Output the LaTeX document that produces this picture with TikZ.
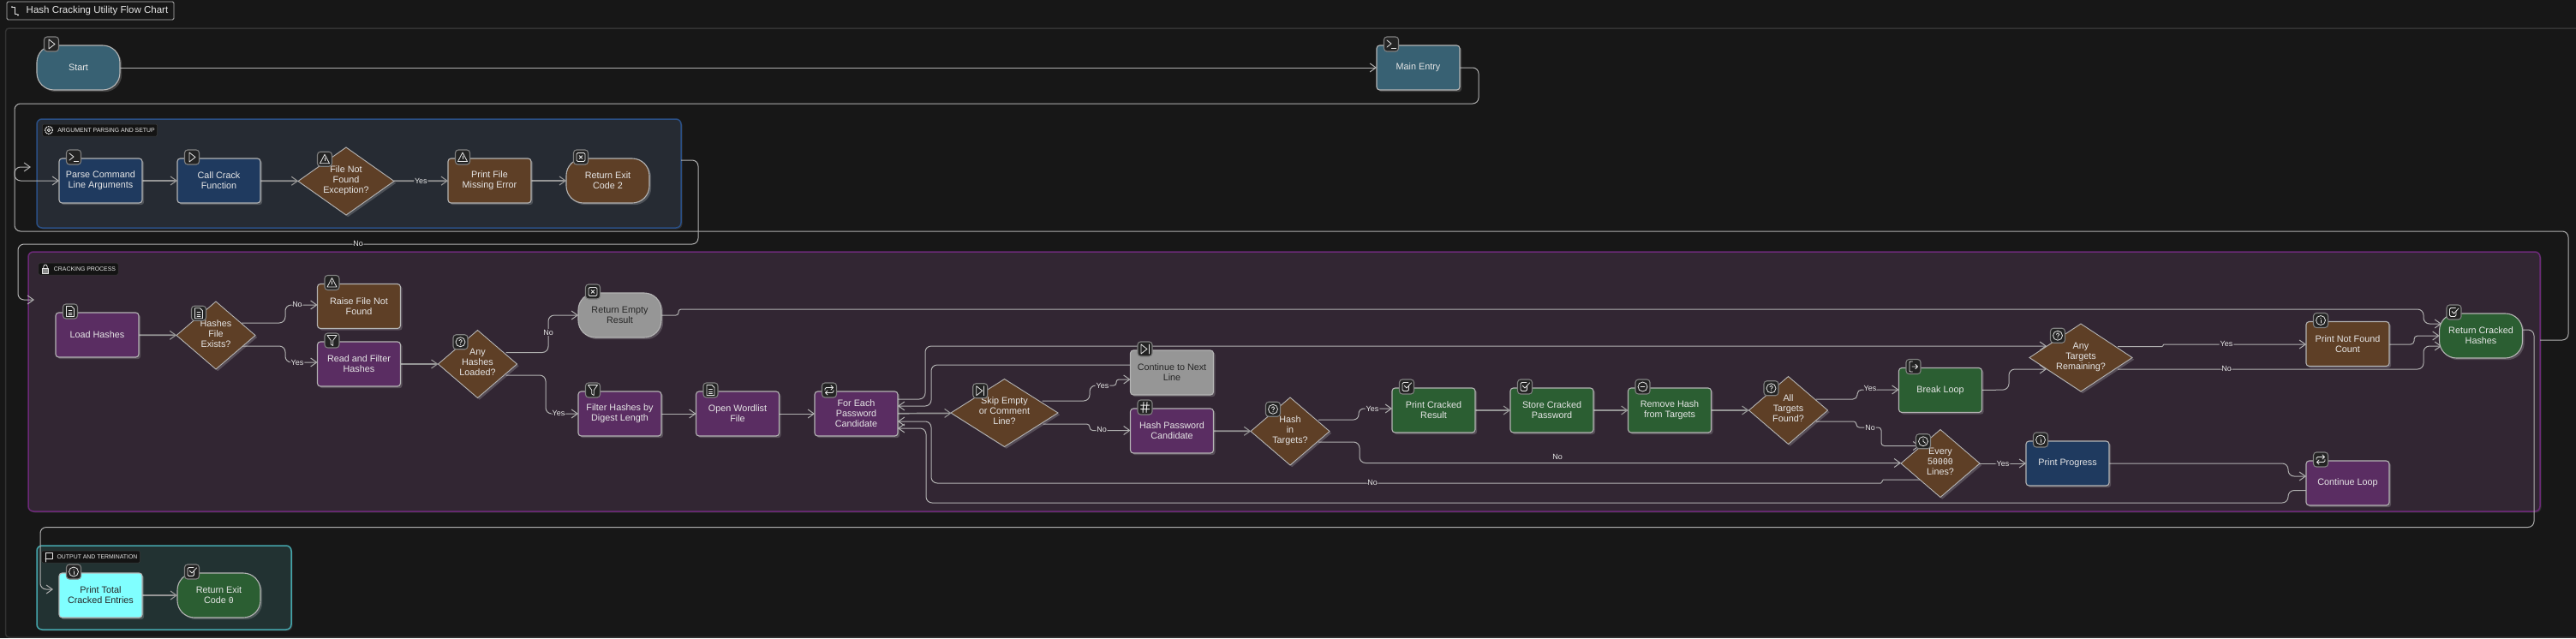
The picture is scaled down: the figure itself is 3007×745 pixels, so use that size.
\documentclass[tikz,border=0pt]{standalone}
\usepackage{fontspec}
\setmainfont{Liberation Sans}
\newfontfamily\zerofont{DejaVu Sans Mono}
\usetikzlibrary{arrows.meta,shapes.geometric,shadows}

\definecolor{canvasbg}{HTML}{171717}
\definecolor{framecol}{HTML}{333333}
\definecolor{edgecol}{HTML}{B0B0B0}
\definecolor{edgegrey}{HTML}{969696}
\definecolor{outlinecol}{HTML}{B4B4B4}
\definecolor{textcol}{HTML}{E6E6E6}
\definecolor{tealfill}{HTML}{386173}
\definecolor{bluefill}{HTML}{1F3A5F}
\definecolor{brownfill}{HTML}{5E3F26}
\definecolor{purplefill}{HTML}{5A2D62}
\definecolor{greenfill}{HTML}{2B5E32}
\definecolor{greyfill}{HTML}{969696}
\definecolor{cyanfill}{HTML}{80FFFF}
\definecolor{argbg}{HTML}{262B33}
\definecolor{argline}{HTML}{2A4F85}
\definecolor{crackbg}{HTML}{322633}
\definecolor{crackline}{HTML}{6C2A78}
\definecolor{outbg}{HTML}{223232}
\definecolor{outline}{HTML}{45A5AB}

\pgfdeclarelayer{canvas}
\pgfdeclarelayer{groups}
\pgfdeclarelayer{flows}
\pgfsetlayers{canvas,groups,flows,main}

\newcommand{\nodefont}{\fontsize{10.8}{12}\selectfont}
\newcommand{\zr}{{\zerofont\fontsize{9.8}{12}\selectfont 0}}
% text of a diamond has no size, so that the diamond keeps the size it is given
\newcommand{\dtext}[1]{\makebox[0pt]{\raisebox{-2pt}[0pt][0pt]{\begin{tabular}{@{}c@{}}#1\end{tabular}}}}
\newcommand{\badge}[2]{\node[badgebox] (#1-badge) at ([shift={(17,-1.5)}]#1.north west) {}; \pic at (#1-badge) {#2};}
\newcommand{\dbadge}[2]{\node[badgebox] (#1-badge) at ([shift={(3,-6)}]#1.north west) {}; \pic at (#1-badge) {#2};}

\tikzset{
  soft/.style={drop shadow={shadow xshift=2.2pt,shadow yshift=-2.2pt,fill=white,opacity=.18}},
  stepbox/.style={rectangle,draw=outlinecol,line width=1.1pt,rounded corners=3.5pt,minimum width=97pt,minimum height=52pt,
    inner sep=0pt,outer sep=0pt,align=center,text=textcol,font=\nodefont,soft},
  endbox/.style={stepbox,rounded corners=20pt},
  decision/.style={diamond,draw=outlinecol,line width=.9pt,fill=brownfill,minimum height=79pt,minimum width=92pt,
    inner sep=0pt,outer sep=0pt,text=textcol,font=\nodefont,soft},
  group/.style={rectangle,line width=1.5pt,rounded corners=6pt,inner sep=0pt,outer sep=0pt,
    drop shadow={shadow xshift=1.5pt,shadow yshift=-1.5pt,fill=white,opacity=.1}},
  grouplab/.style={rectangle,fill=black!92,draw=white!15!canvasbg,line width=.5pt,rounded corners=1.5pt,inner xsep=3pt,
    inner ysep=0pt,minimum height=14pt,text=textcol,font=\fontsize{6.9}{8}\selectfont},
  badgebox/.style={rectangle,fill=black!45!darkgray,draw=gray,line width=1.1pt,rounded corners=3.5pt,minimum size=17pt,inner sep=0pt,outer sep=0pt},
  flow/.style={draw=edgecol,line width=1pt,rounded corners=7pt,->,>={Straight Barb[length=7pt,width=10pt]}},
  flowthick/.style={flow,draw=edgegrey,line width=1.7pt,>={Straight Barb[length=7pt,width=10pt,line width=1.1pt]}},
  lab/.style={fill=crackbg,inner sep=1pt,text=textcol,font=\fontsize{9}{10}\selectfont},
  icon/.style={draw=textcol,line width=.8pt,line join=round,line cap=round},
  iplay/.pic={\draw[icon] (-3,-5.5) -- (4,0) -- (-3,5.5) -- cycle;},
  iterm/.pic={\draw[icon] (-5,-4.5) -- (0,-.5) -- (-5,3.5); \draw[icon,line width=1.2pt] (.5,5) -- (5.5,5);},
  iwarn/.pic={\draw[icon] (0,-5.5) -- (5.5,5) -- (-5.5,5) -- cycle; \draw[icon] (0,-1.5) -- (0,2);},
  ixbox/.pic={\draw[icon,rounded corners=1.5pt] (-5,-5) rectangle (5,5); \draw[icon] (-1.8,-1.8) -- (1.8,1.8) (-1.8,1.8) -- (1.8,-1.8);},
  ifile/.pic={\draw[icon] (-4.5,-6) -- (1.5,-6) -- (4.5,-3) -- (4.5,6) -- (-4.5,6) -- cycle; \draw[icon] (-2,-1) -- (2,-1) (-2,1.5) -- (2,1.5) (-2,4) -- (2,4);},
  ifilter/.pic={\draw[icon] (-5.5,-6) -- (5.5,-6) -- (1.2,0) -- (1.2,6) -- (-1.2,4.5) -- (-1.2,0) -- cycle;},
  iquest/.pic={\draw[icon] (0,0) circle (5.5pt); \draw[icon] (-1.6,-1.5) .. controls (-1.5,-3.5) and (2,-3.5) .. (1.8,-1.3) .. controls (1.6,-.3) and (0,-.3) .. (0,1); \fill[textcol] (0,3) circle (.6pt);},
  irepeat/.pic={\draw[icon,rounded corners=1.5pt] (-5,0) -- (-5,-3) -- (4,-3); \draw[icon] (2,-5.5) -- (4.5,-3) -- (2,-.5); \draw[icon,rounded corners=1.5pt] (5,0) -- (5,3) -- (-4,3); \draw[icon] (-2,.5) -- (-4.5,3) -- (-2,5.5);},
  iskip/.pic={\draw[icon] (-4.5,-5.5) -- (2.5,0) -- (-4.5,5.5) -- cycle; \draw[icon] (4.5,-5.5) -- (4.5,5.5);},
  ihash/.pic={\draw[icon,line width=1pt] (-1.5,-6) -- (-2.5,6) (2.5,-6) -- (1.5,6) (-5,-2.5) -- (5,-2.5) (-5,2) -- (5,2);},
  icheck/.pic={\draw[icon,rounded corners=1.5pt] (2.5,-1) -- (2.5,5) -- (-5,5) -- (-5,-5) -- (2,-5); \draw[icon] (-2.5,-1) -- (0,1.5) -- (5.5,-4.5);},
  iminus/.pic={\draw[icon] (0,0) circle (5.5pt); \draw[icon] (-2.5,0) -- (2.5,0);},
  iexit/.pic={\draw[icon,rounded corners=1pt] (-1,-6) -- (-4.5,-6) -- (-4.5,6) -- (-1,6); \draw[icon] (-1.5,0) -- (5,0) (2.5,-2.5) -- (5,0) -- (2.5,2.5);},
  iinfo/.pic={\draw[icon] (0,0) circle (5.5pt); \draw[icon] (0,-.5) -- (0,3); \fill[textcol] (0,-2.5) circle (.6pt);},
  iclock/.pic={\draw[icon] (0,0) circle (5.5pt); \draw[icon] (0,-3) -- (0,0) -- (2.5,2);},
  igear/.pic={\draw[icon,dash pattern=on 1.4pt off .8pt,line width=1.2pt,line cap=butt] (0,0) circle (4.5pt); \draw[icon] (0,0) circle (1.8pt);},
  ilock/.pic={\draw[icon,fill=textcol!60!black] (-3.5,-.5) rectangle (3.5,5); \draw[icon] (-2.2,-.5) -- (-2.2,-2.5) .. controls (-2,-6) and (2,-6) .. (2.2,-2.5) -- (2.2,-.5);},
  iflag/.pic={\draw[icon] (-4,6) -- (-4,-5) -- (4.5,-5) -- (4.5,2) -- (-4,2);},
  ibranch/.pic={\draw[icon] (-3.5,-5) -- (-1,-5) -- (-1,3) -- (2,3); \fill[textcol] (-4,-5) circle (1pt) (3,4.5) circle (1.2pt);}
}

\begin{document}
\begin{tikzpicture}[x=1pt,y=-1pt]
\useasboundingbox (0,0) rectangle (3007,745);
\begin{pgfonlayer}{canvas}
\fill[canvasbg] (0,0) rectangle (3007,745);
\draw[framecol,line width=1.5pt,rounded corners=4pt] (6.5,33) rectangle (3030,744);
\end{pgfonlayer}

% title
\node[rectangle,draw=outlinecol,line width=.8pt,rounded corners=1.5pt,minimum width=195pt,minimum height=21pt,inner sep=0pt,text=textcol,font=\fontsize{11.5}{12}\selectfont] (title) at (105.5,12.5) {\hspace*{16pt}Hash Cracking Utility Flow Chart};
\pic at (18,13) {ibranch};

% groups
\begin{pgfonlayer}{groups}
\node[group,fill=argbg,draw=argline,minimum width=752pt,minimum height=127pt] (arggroup) at (419,202.5) {};
\node[group,fill=crackbg,draw=crackline,minimum width=2932pt,minimum height=303pt] (crackgroup) at (1499,445.5) {};
\node[group,fill=outbg,draw=outline,minimum width=297pt,minimum height=98pt] (outgroup) at (191.5,686) {};
\end{pgfonlayer}
\node[grouplab] (arglab) at (116.5,152) {\hspace*{15pt}ARGUMENT PARSING AND SETUP};
\pic at (57,152) {igear};
\node[grouplab] (cracklab) at (91.5,314) {\hspace*{15pt}CRACKING PROCESS};
\pic at (53,314) {ilock};
\node[grouplab] (outlab) at (106,650) {\hspace*{15pt}OUTPUT AND TERMINATION};
\pic at (57,650) {iflag};

% nodes, top row
\node[endbox,fill=tealfill] (start) at (91.5,79) {Start};
\node[stepbox,fill=tealfill] (mainentry) at (1655.5,79) {Main Entry};

% argument parsing
\node[stepbox,fill=bluefill] (parse) at (117.5,211) {Parse Command\\Line Arguments};
\node[stepbox,fill=bluefill] (callcrack) at (255.5,211) {Call Crack\\Function};
\node[decision,minimum width=112pt] (notfound) at (404,211.5) {\dtext{File Not\\Found\\Exception?}};
\node[stepbox,fill=brownfill] (printmissing) at (571.5,211) {Print File\\Missing Error};
\node[endbox,fill=brownfill] (exittwo) at (709.5,211) {Return Exit\\Code 2};

% cracking process
\node[stepbox,fill=purplefill] (loadhashes) at (113.5,391) {Load Hashes};
\node[decision] (fileexists) at (252,391.5) {\dtext{Hashes\\File\\Exists?}};
\node[stepbox,fill=brownfill] (raisenf) at (419,357.5) {Raise File Not\\Found};
\node[stepbox,fill=purplefill] (readfilter) at (419,425) {Read and Filter\\Hashes};
\node[decision] (anyloaded) at (557.5,425) {\dtext{Any\\Hashes\\Loaded?}};
\node[endbox,fill=greyfill,text=black!85] (retempty) at (723.5,368) {Return Empty\\Result};
\node[stepbox,fill=purplefill] (filterlen) at (723.5,483) {Filter Hashes by\\Digest Length};
\node[stepbox,fill=purplefill] (openword) at (861,483) {Open Wordlist\\File};
\node[stepbox,fill=purplefill] (foreach) at (999.5,483) {For Each\\Password\\Candidate};
\node[decision,minimum width=125pt] (skipline) at (1172.5,482) {\dtext{Skip Empty\\or Comment\\Line?}};
\node[stepbox,fill=greyfill,text=black!85] (contnext) at (1368,435) {Continue to Next\\Line};
\node[stepbox,fill=purplefill] (hashpass) at (1368,503) {Hash Password\\Candidate};
\node[decision] (intargets) at (1506,503.5) {\dtext{Hash\\in\\Targets?}};
\node[stepbox,fill=greenfill] (printcracked) at (1673.5,479) {Print Cracked\\Result};
\node[stepbox,fill=greenfill] (storecracked) at (1811.5,479) {Store Cracked\\Password};
\node[stepbox,fill=greenfill] (removehash) at (1949,479) {Remove Hash\\from Targets};
\node[decision] (allfound) at (2087.5,479) {\dtext{All\\Targets\\Found?}};
\node[stepbox,fill=greenfill] (breakloop) at (2265,455.5) {Break Loop};
\node[decision,minimum width=120pt] (anyleft) at (2429,417.5) {\dtext{Any\\Targets\\Remaining?}};
\node[stepbox,fill=brownfill] (printnf) at (2740.5,401.5) {Print Not Found\\Count};
\node[endbox,fill=greenfill] (retcracked) at (2896,392) {Return Cracked\\Hashes};
\node[decision] (everyn) at (2265,541) {\dtext{Every\\5\zr\zr\zr\zr\\Lines?}};
\node[stepbox,fill=bluefill] (progress) at (2413.5,541) {Print Progress};
\node[stepbox,fill=purplefill] (contloop) at (2740.5,564) {Continue Loop};

% output
\node[stepbox,fill=cyanfill,text=black!85] (printtotal) at (117.5,695) {Print Total\\Cracked Entries};
\node[endbox,fill=greenfill] (exitzero) at (255.5,695) {Return Exit\\Code \zr};

% badges
\badge{start}{iplay} \badge{mainentry}{iterm} \badge{parse}{iterm} \badge{callcrack}{iplay}
\dbadge{notfound}{iwarn} \badge{printmissing}{iwarn} \badge{exittwo}{ixbox}
\badge{loadhashes}{ifile} \dbadge{fileexists}{ifile} \badge{raisenf}{iwarn} \badge{readfilter}{ifilter}
\dbadge{anyloaded}{iquest} \badge{retempty}{ixbox} \badge{filterlen}{ifilter} \badge{openword}{ifile}
\badge{foreach}{irepeat} \dbadge{skipline}{iskip} \badge{contnext}{iskip} \badge{hashpass}{ihash}
\dbadge{intargets}{iquest} \badge{printcracked}{icheck} \badge{storecracked}{icheck} \badge{removehash}{iminus}
\dbadge{allfound}{iquest} \badge{breakloop}{iexit} \dbadge{anyleft}{iquest} \badge{printnf}{iinfo}
\badge{retcracked}{icheck} \dbadge{everyn}{iclock} \badge{progress}{iinfo} \badge{contloop}{irepeat}
\badge{printtotal}{iinfo} \badge{exitzero}{icheck}

\begin{pgfonlayer}{flows}
% straight connectors
\path[flow]
(start) edge (mainentry)
(filterlen) edge (openword)
(openword) edge (foreach)
;
\path[flowthick]
(parse) edge (callcrack)
(callcrack) edge (notfound)
(printmissing) edge (exittwo)
(loadhashes) edge (fileexists)
(readfilter) edge (anyloaded)
(foreach) edge (skipline)
(hashpass) edge (intargets)
(printcracked) edge (storecracked)
(storecracked) edge (removehash)
(removehash) edge (allfound)
(printtotal) edge (exitzero)
;
\path[flowthick] (notfound) edge node[lab,fill=argbg] (yes1) {Yes} (printmissing);
\path[flow] (everyn) edge node[lab,pos=.5] (yes2) {Yes} (progress);

% routed connectors
\draw[flow] (mainentry.east) -- (1726,79) -- (1726,121) -- (17,121) -- (17,211) -- (parse.west);
\draw[flow] ([shift={(0,-15.5)}]arggroup.east) -- (815,187) -- (815,285) -- (21,285) -- (21,350) -- (40,350)
  node[lab,fill=canvasbg] (no1) at (418,284) {No};
\draw[flow] ([shift={(0,-48.5)}]crackgroup.east) -- (2998,397) -- (2998,270) -- (17,270) -- (17,195) -- (36,195);
\draw[flow] ([shift={(-5,-7)}]retcracked.east) -- (2958,385) -- (2958,615.5) -- (47,615.5) -- (47,688) -- (62,688);

\draw[flow] ([shift={(30,-14.5)}]fileexists.center) -- (333,377) -- (333,356) -- (raisenf.west |- 0,356)
  node[lab] (no2) at (347,355) {No};
\draw[flow] ([shift={(30,12.5)}]fileexists.center) -- (333,404) -- (333,423) -- (readfilter.west |- 0,423)
  node[lab] (yes3) at (347,423) {Yes};
\draw[flow] ([shift={(33,-13.5)}]anyloaded.center) -- (640,411.5) -- (640,368) -- (retempty.west)
  node[lab] (no3) at (640,388) {No};
\draw[flow] ([shift={(33,13)}]anyloaded.center) -- (637,438) -- (637,483) -- (filterlen.west)
  node[lab] (yes4) at (652,482) {Yes};
\draw[flow] (retempty.east) [rounded corners=3pt] -- (792,368) -- (792,361) -- (1200,361) [rounded corners=7pt] -- (2829,361) -- (2829,378) -- (2850,378);

\draw[flow] ([shift={(0,-17)}]foreach.east) -- (1080,466) -- (1080,404) -- (2389,404);
\draw[flow] ([shift={(0,-9)}]contnext.west) -- (1087,426) -- (1087,474) -- ([shift={(0,-9)}]foreach.east);
\draw[flow] ([shift={(44,-14)}]skipline.center) -- (1272,468) -- (1272,450) [rounded corners=3pt] -- (1303,450) -- (1303,443) -- (contnext.west |- 0,443)
  node[lab] (yes5) at (1287,450) {Yes};
\draw[flow,rounded corners=3.5pt] ([shift={(45,13)}]skipline.center) -- (1272,495) -- (1272,502.5) -- (hashpass.west |- 0,502.5)
  node[lab] (no4) at (1286,501) {No};
\draw[flow,rounded corners=6pt] ([shift={(33,-13.5)}]intargets.center) -- (1586,490) -- (1586,477) -- (printcracked.west |- 0,477)
  node[lab] (yes6) at (1602,477) {Yes};
\draw[flow] ([shift={(33,12.5)}]intargets.center) -- (1587,516) -- (1587,540.5) -- (everyn.west |- 0,540.5)
  node[lab] (no5) at (1818,533) {No};
\draw[flow] ([shift={(-23,19)}]everyn.center) [rounded corners=1.5pt] -- (2197,560) -- (2197,564) -- (1800,564) [rounded corners=7pt] -- (1087,564) -- (1087,492) -- ([shift={(0,9)}]foreach.east)
  node[lab] (no6) at (1602,563) {No};
\draw[flow] ([shift={(0,8.5)}]contloop.west) -- (2671,572.5) -- (2671,587) -- (1081,587) -- (1081,500) -- ([shift={(0,17)}]foreach.east);

\draw[flow,rounded corners=5pt] ([shift={(32,-13)}]allfound.center) -- (2168,466) -- (2168,455) -- (breakloop.west |- 0,455)
  node[lab] (yes7) at (2183,453.5) {Yes};
\draw[flow,rounded corners=3.5pt] ([shift={(32,13)}]allfound.center) -- (2167,492) -- (2167,499) -- (2196,499) -- (2196,520.5) -- (2241,520.5)
  node[lab] (no7) at (2183,499) {No};
\draw[flow] (breakloop.east) -- (2345,455) -- (2345,431) -- (2389,431);
\draw[flow,rounded corners=1pt] ([shift={(43,-13)}]anyleft.center) -- (2525,404.5) -- (2525,402) -- (printnf.west |- 0,402)
  node[lab] (yes8) at (2599,401) {Yes};
\draw[flow] ([shift={(43,13.5)}]anyleft.center) -- (2829,431) -- (2829,404) -- (2850,404)
  node[lab] (no8) at (2599,430) {No};
\draw[flow,rounded corners=4pt] (printnf.east |- 0,402) -- (2818,402) -- (2818,392) -- (retcracked.west);
\draw[flow] (progress.east) -- (2671,541) -- (2671,556) -- (contloop.west |- 0,556);
\end{pgfonlayer}
\end{tikzpicture}
\end{document}
